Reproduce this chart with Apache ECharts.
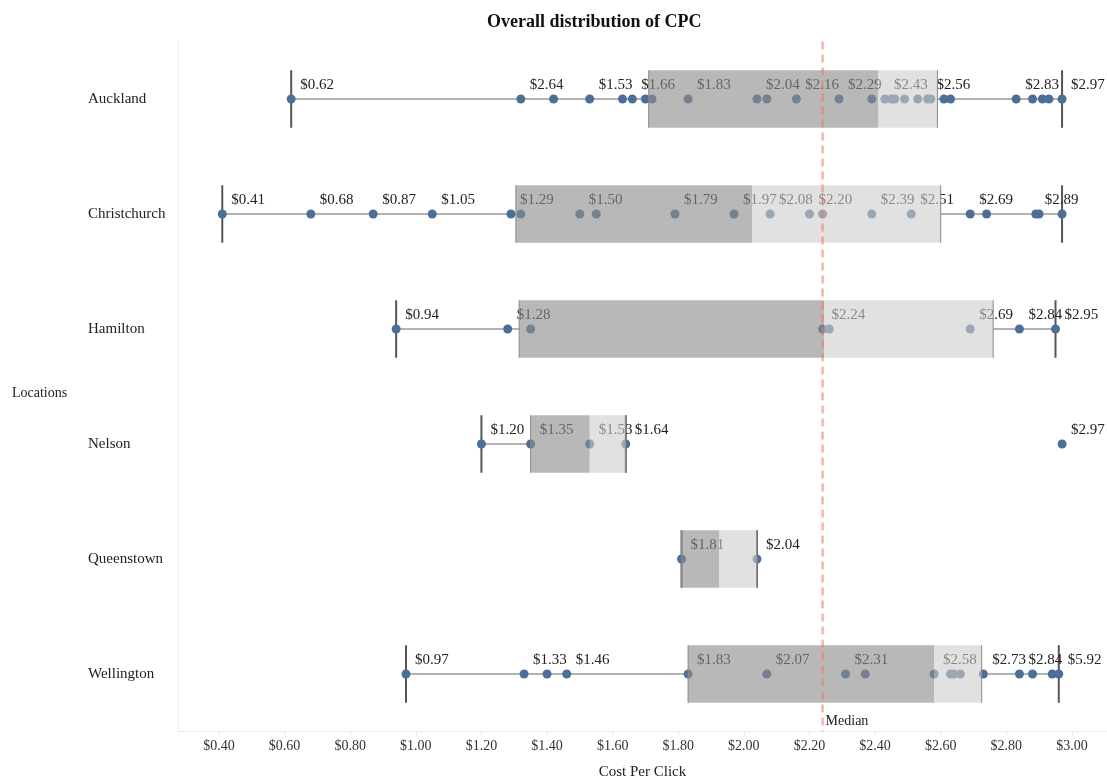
<!DOCTYPE html>
<html>
<head>
<meta charset="utf-8">
<title>Overall distribution of CPC</title>
<script src="https://cdn.jsdelivr.net/npm/echarts@6/dist/echarts.min.js"></script>
<style>
  html, body { margin: 0; padding: 0; background: #fff; }
  #chart { width: 1107px; height: 780px; }
</style>
</head>
<body>
<div id="chart"></div>
<script>
const categories = ['Auckland', 'Christchurch', 'Hamilton', 'Nelson', 'Queenstown', 'Wellington'];

// CPC of each point, per location, with the text Tableau printed next to it
const aucklandCpc = [0.62, 1.32, 1.42, 1.53, 1.63, 1.66, 1.70, 1.72, 1.83, 2.04, 2.07, 2.16, 2.29, 2.39, 2.43, 2.45, 2.46, 2.49, 2.53, 2.56, 2.57, 2.61, 2.63, 2.83, 2.88, 2.91, 2.93, 2.97];
const aucklandLabels = ['$0.62', '$2.64', '', '$1.53', '', '$1.66', '', '', '$1.83', '$2.04', '', '$2.16', '$2.29', '', '$2.43', '', '', '', '', '$2.56', '', '', '', '$2.83', '', '', '', '$2.97'];
const christchurchCpc = [0.41, 0.68, 0.87, 1.05, 1.29, 1.32, 1.50, 1.55, 1.79, 1.97, 2.08, 2.20, 2.24, 2.39, 2.51, 2.69, 2.74, 2.89, 2.90, 2.97];
const christchurchLabels = ['$0.41', '$0.68', '$0.87', '$1.05', '$1.29', '', '$1.50', '', '$1.79', '$1.97', '$2.08', '$2.20', '', '$2.39', '$2.51', '$2.69', '', '$2.89', '', ''];
const hamiltonCpc = [0.94, 1.28, 1.35, 2.24, 2.26, 2.69, 2.84, 2.95];
const hamiltonLabels = ['$0.94', '$1.28', '', '$2.24', '', '$2.69', '$2.84', '$2.95'];
const nelsonCpc = [1.20, 1.35, 1.53, 1.64, 2.97];
const nelsonLabels = ['$1.20', '$1.35', '$1.53', '$1.64', '$2.97'];
const queenstownCpc = [1.81, 2.04];
const queenstownLabels = ['$1.81', '$2.04'];
const wellingtonCpc = [0.97, 1.33, 1.40, 1.46, 1.83, 2.07, 2.31, 2.37, 2.58, 2.63, 2.64, 2.66, 2.73, 2.84, 2.88, 2.94, 2.96];
const wellingtonLabels = ['$0.97', '$1.33', '', '$1.46', '$1.83', '$2.07', '$2.31', '', '$2.58', '', '', '', '$2.73', '$2.84', '', '', '$5.92'];

// box plot stats, one per location (same order as categories)
const boxQ1 = [1.71, 1.305, 1.315, 1.35, 1.81, 1.83];
const boxMedian = [2.41, 2.025, 2.245, 1.53, 1.925, 2.58];
const boxQ3 = [2.59, 2.60, 2.76, 1.64, 2.04, 2.725];
const whiskerLow = [0.62, 0.41, 0.94, 1.20, 1.81, 0.97];
const whiskerHigh = [2.97, 2.97, 2.95, 1.64, 2.04, 2.96];

const medianCpc = 2.24;
const xTicks = [0.4, 0.6, 0.8, 1.0, 1.2, 1.4, 1.6, 1.8, 2.0, 2.2, 2.4, 2.6, 2.8, 3.0];

const FONT = '"Liberation Serif", "Times New Roman", serif';

const pointSets = [
  [aucklandCpc, aucklandLabels],
  [christchurchCpc, christchurchLabels],
  [hamiltonCpc, hamiltonLabels],
  [nelsonCpc, nelsonLabels],
  [queenstownCpc, queenstownLabels],
  [wellingtonCpc, wellingtonLabels]
];

let pointData = [];
pointSets.forEach((set, i) => {
  set[0].forEach((v, j) => {
    pointData.push({ value: [v, i], labelText: set[1][j] });
  });
});

const whiskerData = categories.map((c, i) => [i, whiskerLow[i], boxQ1[i], boxQ3[i], whiskerHigh[i]]);
const boxData = categories.map((c, i) => [i, boxQ1[i], boxMedian[i], boxQ3[i]]);

const chart = echarts.init(document.getElementById('chart'), null, { renderer: 'canvas' });

const option = {
  animation: false,
  title: {
    text: 'Overall distribution of CPC',
    left: 482,
    top: 8,
    textStyle: { fontFamily: FONT, fontSize: 18, fontWeight: 'bold', color: '#111' }
  },
  graphic: [{
    type: 'text',
    left: 12,
    top: 386,
    style: { text: 'Locations', font: '14px ' + FONT, fill: '#222' }
  }],
  grid: { left: 178, right: 0, top: 41.5, bottom: 48.5, containLabel: false, outerBoundsMode: 'none' },
  xAxis: {
    type: 'value',
    min: 0.275,
    max: 3.107,
    name: 'Cost Per Click',
    nameLocation: 'middle',
    nameGap: 33,
    nameTextStyle: { fontFamily: FONT, fontSize: 15, color: '#222' },
    axisLine: { show: true, lineStyle: { color: '#eeeeee' } },
    axisTick: { show: true, length: 4, customValues: xTicks, lineStyle: { color: '#e4e4e4' } },
    axisLabel: {
      customValues: xTicks,
      margin: 8,
      fontFamily: FONT,
      fontSize: 14,
      color: '#333',
      formatter: (v) => '$' + v.toFixed(2)
    },
    splitLine: { show: false }
  },
  yAxis: {
    type: 'category',
    data: categories,
    inverse: true,
    axisLine: { show: true, lineStyle: { color: '#eeeeee' } },
    axisTick: { show: false },
    axisLabel: { align: 'left', margin: 90, fontFamily: FONT, fontSize: 15, color: '#222' },
    splitLine: { show: false }
  },
  series: [
    {
      // whisker lines and caps, under the points
      type: 'custom',
      z: 1,
      data: whiskerData,
      encode: { x: [1, 2, 3, 4], y: 0 },
      renderItem: (params, api) => {
        const i = api.value(0);
        const lo = api.coord([api.value(1), i]);
        const q1 = api.coord([api.value(2), i]);
        const q3 = api.coord([api.value(3), i]);
        const hi = api.coord([api.value(4), i]);
        const h = api.size([0, 1])[1] * 0.5;
        const y = lo[1];
        return {
          type: 'group',
          children: [
            { type: 'line', shape: { x1: lo[0], y1: y, x2: q1[0], y2: y }, style: { stroke: '#666', lineWidth: 1 } },
            { type: 'line', shape: { x1: q3[0], y1: y, x2: hi[0], y2: y }, style: { stroke: '#666', lineWidth: 1 } },
            { type: 'line', shape: { x1: lo[0], y1: y - h / 2, x2: lo[0], y2: y + h / 2 }, style: { stroke: '#555', lineWidth: 2 } },
            { type: 'line', shape: { x1: hi[0], y1: y - h / 2, x2: hi[0], y2: y + h / 2 }, style: { stroke: '#555', lineWidth: 2 } }
          ]
        };
      }
    },
    {
      type: 'scatter',
      z: 2,
      data: pointData,
      symbol: 'circle',
      symbolSize: 9,
      itemStyle: { color: '#4c6f97', opacity: 1 },
      label: {
        show: true,
        position: [13.5, -17],
        formatter: (p) => p.data.labelText,
        fontFamily: FONT,
        fontSize: 15,
        color: '#222'
      }
    },
    {
      // quartile boxes drawn over the points, semi transparent
      type: 'custom',
      z: 3,
      data: boxData,
      encode: { x: [1, 2, 3], y: 0 },
      renderItem: (params, api) => {
        const i = api.value(0);
        const q1 = api.coord([api.value(1), i]);
        const med = api.coord([api.value(2), i]);
        const q3 = api.coord([api.value(3), i]);
        const h = api.size([0, 1])[1] * 0.5;
        const top = q1[1] - h / 2;
        return {
          type: 'group',
          children: [
            { type: 'rect', shape: { x: q1[0], y: top, width: med[0] - q1[0], height: h }, style: { fill: 'rgba(140,140,140,0.62)' } },
            { type: 'rect', shape: { x: med[0], y: top, width: q3[0] - med[0], height: h }, style: { fill: 'rgba(205,205,205,0.6)' } },
            { type: 'line', shape: { x1: q1[0], y1: top, x2: q1[0], y2: top + h }, style: { stroke: '#888', lineWidth: 1 } },
            { type: 'line', shape: { x1: q3[0], y1: top, x2: q3[0], y2: top + h }, style: { stroke: '#888', lineWidth: 1 } }
          ]
        };
      }
    },
    {
      // overall median reference line
      type: 'custom',
      z: 4,
      data: [[medianCpc, 0]],
      encode: { x: 0, y: 1 },
      renderItem: (params, api) => {
        const x = api.coord([api.value(0), 0])[0];
        const cs = params.coordSys;
        return {
          type: 'group',
          children: [
            {
              type: 'line',
              shape: { x1: x, y1: cs.y, x2: x, y2: cs.y + cs.height },
              style: { stroke: 'rgba(240,120,100,0.55)', lineWidth: 2.5, lineDash: [8, 5] }
            },
            {
              type: 'text',
              x: x + 3,
              y: cs.y + cs.height - 10,
              style: { text: 'Median', font: '14px ' + FONT, fill: '#222', textAlign: 'left', textVerticalAlign: 'middle' }
            }
          ]
        };
      }
    }
  ]
};

chart.setOption(option);
window.addEventListener('resize', chart.resize);
</script>
</body>
</html>
